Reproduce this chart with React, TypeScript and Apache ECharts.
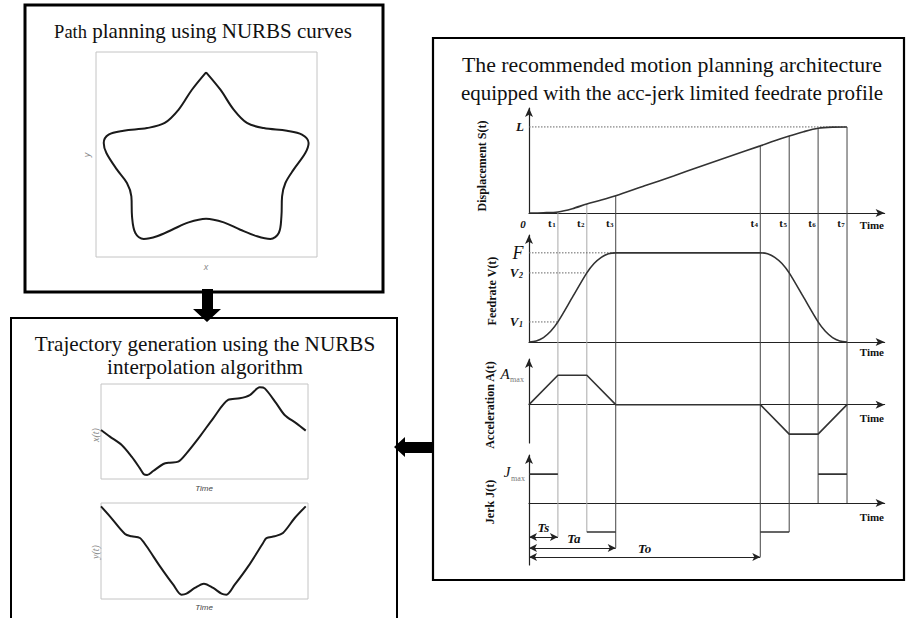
import React, { useEffect, useRef } from "react";
import * as echarts from "echarts";

// ---------- Data ----------
// Star-shaped NURBS path (normalised 0..100 in the plot box)
const starX = [49.8, 56.3, 62.3, 68.3, 75.9, 86.4, 93.2, 96.2, 94.7, 89.4, 85.7, 84.2, 83.9, 82.7, 78.9, 72.9, 65.3, 57.8, 49.8, 41.9, 34.4, 27.6, 21.6, 17.8, 16.3, 16.0, 14.0, 9.5, 4.7, 3.5, 5.7, 12.5, 23.1, 31.1, 37.4, 43.4, 49.8];
const starY = [90.1, 81.6, 71.9, 65.4, 62.9, 61.6, 59.7, 55.6, 50.7, 42.6, 36.1, 29.6, 19.8, 11.7, 8.8, 10.1, 13.3, 16.9, 18.7, 16.9, 13.3, 10.1, 8.8, 11.7, 19.8, 29.6, 36.1, 42.6, 50.7, 55.6, 59.7, 61.6, 62.9, 65.4, 71.9, 81.6, 90.1];

// x(t) trajectory
const xtTime = [0, 4.3, 10.0, 14.8, 18.8, 20.7, 22.3, 25.2, 30.1, 33.3, 37.3, 41.3, 47.7, 54.2, 61.4, 67.0, 71.9, 76.7, 79.1, 84.7, 88.7, 94.4, 98.9];
const xtVal = [51.6, 44.6, 35.8, 23.5, 11.2, 4.9, 4.2, 8.4, 15.8, 17.2, 18.2, 27.0, 44.6, 63.9, 83.2, 84.9, 88.4, 96.5, 95.4, 79.6, 67.4, 58.6, 50.9];

// y(t) trajectory
const ytTime = [0, 4.3, 11.6, 14.8, 18.8, 22.0, 28.5, 34.9, 38.9, 41.3, 45.3, 49.7, 54.2, 58.2, 60.6, 64.6, 71.1, 78.3, 79.9, 83.9, 87.9, 93.6, 98.9];
const ytVal = [96.5, 86.1, 67.7, 65.3, 63.5, 54.9, 34.0, 14.9, 4.5, 5.6, 11.5, 16.0, 11.5, 5.6, 4.5, 14.9, 34.0, 58.3, 63.5, 65.3, 68.8, 84.4, 96.5];

// Knot times t1..t7
const knotT = [1, 2, 3, 8, 9, 10, 11];
const knotLabels = ["1", "2", "3", "4", "5", "6", "7"];

// Displacement S(t) (L = 1)
const sT = [0, 0.5, 1, 1.5, 2, 2.5, 3, 4, 5, 6, 7, 8, 8.5, 9, 9.5, 10, 10.5, 11];
const sVal = [0, 0.003, 0.012, 0.05, 0.105, 0.15, 0.2, 0.316, 0.43, 0.55, 0.665, 0.78, 0.84, 0.895, 0.945, 0.985, 0.998, 1.0];

// Feedrate V(t) (F = 1)
const vT = [0, 0.25, 0.5, 0.75, 1, 1.5, 2, 2.25, 2.5, 2.75, 3, 8, 8.25, 8.5, 8.75, 9, 9.5, 10, 10.25, 10.5, 10.75, 11];
const vVal = [0, 0.012, 0.05, 0.12, 0.225, 0.5, 0.775, 0.88, 0.95, 0.99, 1, 1, 0.99, 0.95, 0.88, 0.775, 0.5, 0.225, 0.12, 0.05, 0.012, 0];
const vLevelVal = [1, 0.775, 0.225];
const vLevelEnd = [3, 2, 1];

// Acceleration A(t) (Amax = 1)
const aT = [0, 1, 2, 3, 8, 9, 10, 11];
const aVal = [0, 1, 1, 0, 0, -1, -1, 0];

// Jerk J(t) pieces (Jmax = 1)
const jStart = [0, 2, 8, 10];
const jEnd = [1, 3, 9, 11];
const jVal = [1, -1, -1, 1];

// Phase durations
const phaseNames = ["Ts", "Ta", "To"];
const phaseEnd = [1, 3, 8];

// ---------- Layout (annotation geometry) ----------
const TMAX = 12.3;
const PLOT_LEFT = 529;
const PLOT_W = 355.6;
const phaseLevel = [-1.17, -1.55, -1.86]; // in J units
const guideBottom = [-1.17, -1, -1.55, -1.86, -1, 0, 0]; // in J units
const guideColor = ["#aaa", "#aaa", "#444", "#444", "#444", "#444", "#444"];

const SERIF = '"Liberation Serif", "Times New Roman", serif';
const SANS = '"Liberation Sans", Arial, sans-serif';

const zip = (a: number[], b: number[]) => a.map((v, i) => [v, b[i]]);

function txt(x: number, y: number, text: string, o: any = {}) {
  const align = o.align || "center";
  return {
    type: "text",
    x,
    y,
    rotation: o.rot || 0,
    z: 20,
    style: {
      text,
      fill: o.color || "#111",
      fontSize: o.size || 12,
      fontFamily: o.family || SERIF,
      fontWeight: o.weight || "normal",
      fontStyle: o.fstyle || "normal",
      align,
      verticalAlign: "middle",
      textAlign: align,
      textVerticalAlign: "middle",
    },
  };
}

function hiddenAxis(gridIndex: number) {
  return { gridIndex, type: "value", min: 0, max: 100, show: false };
}

function motionX(gridIndex: number) {
  return {
    gridIndex,
    type: "value",
    min: 0,
    max: TMAX,
    axisLine: {
      show: true,
      onZero: true,
      symbol: ["none", "arrow"],
      symbolSize: [6, 9],
      lineStyle: { color: "#222", width: 1.2 },
    },
    axisTick: { show: false },
    axisLabel: { show: false },
    splitLine: { show: false },
  };
}

function motionY(gridIndex: number, min: number, max: number) {
  return {
    gridIndex,
    type: "value",
    min,
    max,
    axisLine: {
      show: true,
      onZero: true,
      symbol: ["none", "arrow"],
      symbolSize: [6, 9],
      lineStyle: { color: "#222", width: 1.2 },
    },
    axisTick: { show: false },
    axisLabel: { show: false },
    splitLine: { show: false },
  };
}

function curve(idx: number, data: any[], o: any = {}) {
  return {
    type: "line",
    xAxisIndex: idx,
    yAxisIndex: idx,
    data,
    showSymbol: false,
    symbol: "none",
    smooth: o.smooth ?? false,
    connectNulls: false,
    silent: true,
    lineStyle: { color: o.color || "#222", width: o.width || 1.5, type: o.type || "solid" },
    z: o.z ?? 5,
    markLine: o.markLine,
  };
}

function buildOption() {
  const jData: any[] = [];
  jStart.forEach((s, i) => {
    if (i > 0) jData.push([s, "-"]);
    jData.push([s, jVal[i]]);
    jData.push([jEnd[i], jVal[i]]);
  });

  const series: any[] = [
    curve(0, zip(starX, starY), { smooth: 0.35, width: 2, color: "#1a1a1a" }),
    curve(1, zip(xtTime, xtVal), { smooth: 0.3, width: 2, color: "#1a1a1a" }),
    curve(2, zip(ytTime, ytVal), { smooth: 0.3, width: 2, color: "#1a1a1a" }),
    // L dotted
    curve(3, [[0, 1], [knotT[6], 1]], { width: 1, color: "#666", type: [1.5, 1.5], z: 3 }),
    curve(3, zip(sT, sVal), { smooth: 0.3, width: 1.6, color: "#333" }),
  ];
  vLevelVal.forEach((lv, i) => {
    series.push(curve(4, [[0, lv], [vLevelEnd[i], lv]], { width: 1, color: "#666", type: [1.5, 1.5], z: 3 }));
  });
  series.push(curve(4, zip(vT, vVal), { smooth: 0.3, width: 1.6, color: "#333" }));
  series.push(curve(5, zip(aT, aVal), { width: 1.6, color: "#333" }));
  series.push(
    curve(6, jData, {
      width: 1.6,
      color: "#333",
      markLine: {
        silent: true,
        symbol: ["arrow", "arrow"],
        symbolSize: [6, 8],
        label: { show: false },
        lineStyle: { color: "#222", width: 1, type: "solid" },
        data: phaseEnd.map((e, i) => [
          { coord: [0, phaseLevel[i]] },
          { coord: [e, phaseLevel[i]] },
        ]),
      },
    })
  );

  return {
    animation: false,
    backgroundColor: "#fff",
    grid: [
      { left: 96, top: 52, width: 221, height: 205, show: true, borderColor: "#c4c4c4", borderWidth: 1 },
      { left: 101, top: 384, width: 207, height: 95, show: true, borderColor: "#c4c4c4", borderWidth: 1 },
      { left: 101, top: 503, width: 207, height: 96, show: true, borderColor: "#c4c4c4", borderWidth: 1 },
      { left: PLOT_LEFT, top: 108, width: PLOT_W, height: 105 },
      { left: PLOT_LEFT, top: 235, width: PLOT_W, height: 107 },
      { left: PLOT_LEFT, top: 359, width: PLOT_W, height: 84 },
      { left: PLOT_LEFT, top: 455, width: PLOT_W, height: 110 },
    ],
    xAxis: [hiddenAxis(0), hiddenAxis(1), hiddenAxis(2), motionX(3), motionX(4), motionX(5), motionX(6)],
    yAxis: [
      hiddenAxis(0),
      hiddenAxis(1),
      hiddenAxis(2),
      motionY(3, 0, 1.22),
      motionY(4, 0, 1.2),
      motionY(5, -1.3, 1.55),
      motionY(6, -2.14, 1.66),
    ],
    series,
  };
}

function buildGraphics(chart: any) {
  const px = (g: number, t: number, v: number) => chart.convertToPixel({ gridIndex: g }, [t, v]) as number[];
  const g: any[] = [];

  // Boxes
  g.push({ type: "rect", shape: { x: 25, y: 5, width: 358, height: 287 }, style: { fill: "none", stroke: "#000", lineWidth: 3 }, z: 1 });
  g.push({ type: "rect", shape: { x: 11, y: 318, width: 386, height: 320 }, style: { fill: "none", stroke: "#000", lineWidth: 2 }, z: 1 });
  g.push({ type: "rect", shape: { x: 433, y: 38, width: 471, height: 542 }, style: { fill: "none", stroke: "#000", lineWidth: 2.2 }, z: 1 });

  // Block arrows
  g.push({
    type: "polygon",
    shape: { points: [[202, 289], [213, 289], [213, 309], [221, 309], [207, 322], [193, 309], [202, 309]] },
    style: { fill: "#000" },
    z: 2,
  });
  g.push({
    type: "polygon",
    shape: { points: [[433, 442], [433, 453], [405, 453], [405, 457], [394, 447], [405, 437], [405, 442]] },
    style: { fill: "#000" },
    z: 2,
  });

  // Titles
  g.push(txt(87, 31.5, "Path", { size: 18.5, align: "right" }));
  g.push(txt(87, 30.5, " planning using NURBS curves", { size: 21, align: "left" }));
  g.push(txt(205, 343.5, "Trajectory generation using the NURBS", { size: 21.2 }));
  g.push(txt(205, 366.5, "interpolation algorithm", { size: 21.2 }));
  g.push(txt(672, 64.5, "The recommended motion planning architecture", { size: 21.8 }));
  g.push(txt(672, 93, "equipped with the acc-jerk limited feedrate profile", { size: 21 }));

  // Small plot labels (left side)
  g.push(txt(206, 267, "x", { size: 9, color: "#888", family: SANS, fstyle: "italic" }));
  g.push(txt(87, 155, "y", { size: 9, color: "#888", family: SANS, fstyle: "italic", rot: Math.PI / 2 }));
  g.push(txt(95, 435, "x(t)", { size: 10, color: "#888", fstyle: "italic", rot: Math.PI / 2 }));
  g.push(txt(204, 488, "Time", { size: 8, color: "#444", family: SANS, fstyle: "italic" }));
  g.push(txt(95, 552, "y(t)", { size: 10, color: "#888", fstyle: "italic", rot: Math.PI / 2 }));
  g.push(txt(204, 607, "Time", { size: 8, color: "#444", family: SANS, fstyle: "italic" }));

  // Vertical guide lines t1..t7
  knotT.forEach((t, i) => {
    const si = sT.indexOf(t);
    const top = px(3, t, sVal[si]);
    const bot = px(6, t, guideBottom[i]);
    g.push({
      type: "line",
      shape: { x1: top[0], y1: top[1], x2: bot[0], y2: bot[1] },
      style: { stroke: guideColor[i], lineWidth: 1 },
      z: 1,
    });
  });

  // Time-axis labels
  const o = px(3, 0, 0);
  g.push(txt(o[0] - 6, o[1] + 11, "0", { size: 11, weight: "bold", fstyle: "italic" }));
  knotT.forEach((t, i) => {
    const p = px(3, t, 0);
    g.push(txt(p[0] - 8, p[1] + 10, "t", { size: 11, weight: "bold" }));
    g.push(txt(p[0] - 4, p[1] + 12, knotLabels[i], { size: 7, weight: "bold" }));
  });
  const timeOff = [12, 10, 13, 14];
  [3, 4, 5, 6].forEach((gi, k) => {
    const p = px(gi, 11.86, 0);
    g.push(txt(p[0], p[1] + timeOff[k], "Time", { size: 11, weight: "bold" }));
  });

  // Axis titles
  g.push(txt(482, 166, "Displacement S(t)", { size: 12, weight: "bold", rot: Math.PI / 2 }));
  g.push(txt(492, 291, "Feedrate V(t)", { size: 12, weight: "bold", rot: Math.PI / 2 }));
  g.push(txt(490, 405, "Acceleration A(t)", { size: 12, weight: "bold", rot: Math.PI / 2 }));
  g.push(txt(490, 502, "Jerk J(t)", { size: 12, weight: "bold", rot: Math.PI / 2 }));

  // Level labels
  const pL = px(3, 0, 1);
  g.push(txt(pL[0] - 9, pL[1], "L", { size: 13, weight: "bold", fstyle: "italic" }));
  const pF = px(4, 0, vLevelVal[0]);
  g.push(txt(pF[0] - 11, pF[1], "F", { size: 18, fstyle: "italic" }));
  const pV2 = px(4, 0, vLevelVal[1]);
  g.push(txt(pV2[0] - 15, pV2[1], "V", { size: 13, weight: "bold", fstyle: "italic" }));
  g.push(txt(pV2[0] - 8, pV2[1] + 3, "2", { size: 8, weight: "bold", fstyle: "italic" }));
  const pV1 = px(4, 0, vLevelVal[2]);
  g.push(txt(pV1[0] - 15, pV1[1], "V", { size: 13, weight: "bold", fstyle: "italic" }));
  g.push(txt(pV1[0] - 8, pV1[1] + 3, "1", { size: 8, weight: "bold", fstyle: "italic" }));
  const pA = px(5, 0, 1);
  g.push(txt(pA[0] - 24, pA[1] - 1, "A", { size: 15, fstyle: "italic" }));
  g.push(txt(pA[0] - 12, pA[1] + 4, "max", { size: 8, color: "#777" }));
  const pJ = px(6, 0, 1);
  g.push(txt(pJ[0] - 22, pJ[1] - 2, "J", { size: 15, fstyle: "italic" }));
  g.push(txt(pJ[0] - 11, pJ[1] + 4, "max", { size: 8, color: "#777" }));

  // Phase labels
  const phaseLabelPos = [[0.5, -0.86], [1.55, -1.24], [4.0, -1.58]];
  phaseNames.forEach((n, i) => {
    const p = px(6, phaseLabelPos[i][0], phaseLabelPos[i][1]);
    g.push(txt(p[0], p[1], n, { size: 13, weight: "bold", fstyle: "italic" }));
  });

  return g;
}

export default function App() {
  const ref = useRef<HTMLDivElement>(null);
  useEffect(() => {
    if (!ref.current) return;
    const chart = echarts.init(ref.current, null, { renderer: "svg" });
    chart.setOption(buildOption() as any);
    chart.setOption({ graphic: buildGraphics(chart) } as any);
    return () => chart.dispose();
  }, []);
  return (
    <div
      ref={ref}
      style={{ position: "fixed", left: 0, top: 0, width: 909, height: 618, background: "#fff" }}
    />
  );
}
